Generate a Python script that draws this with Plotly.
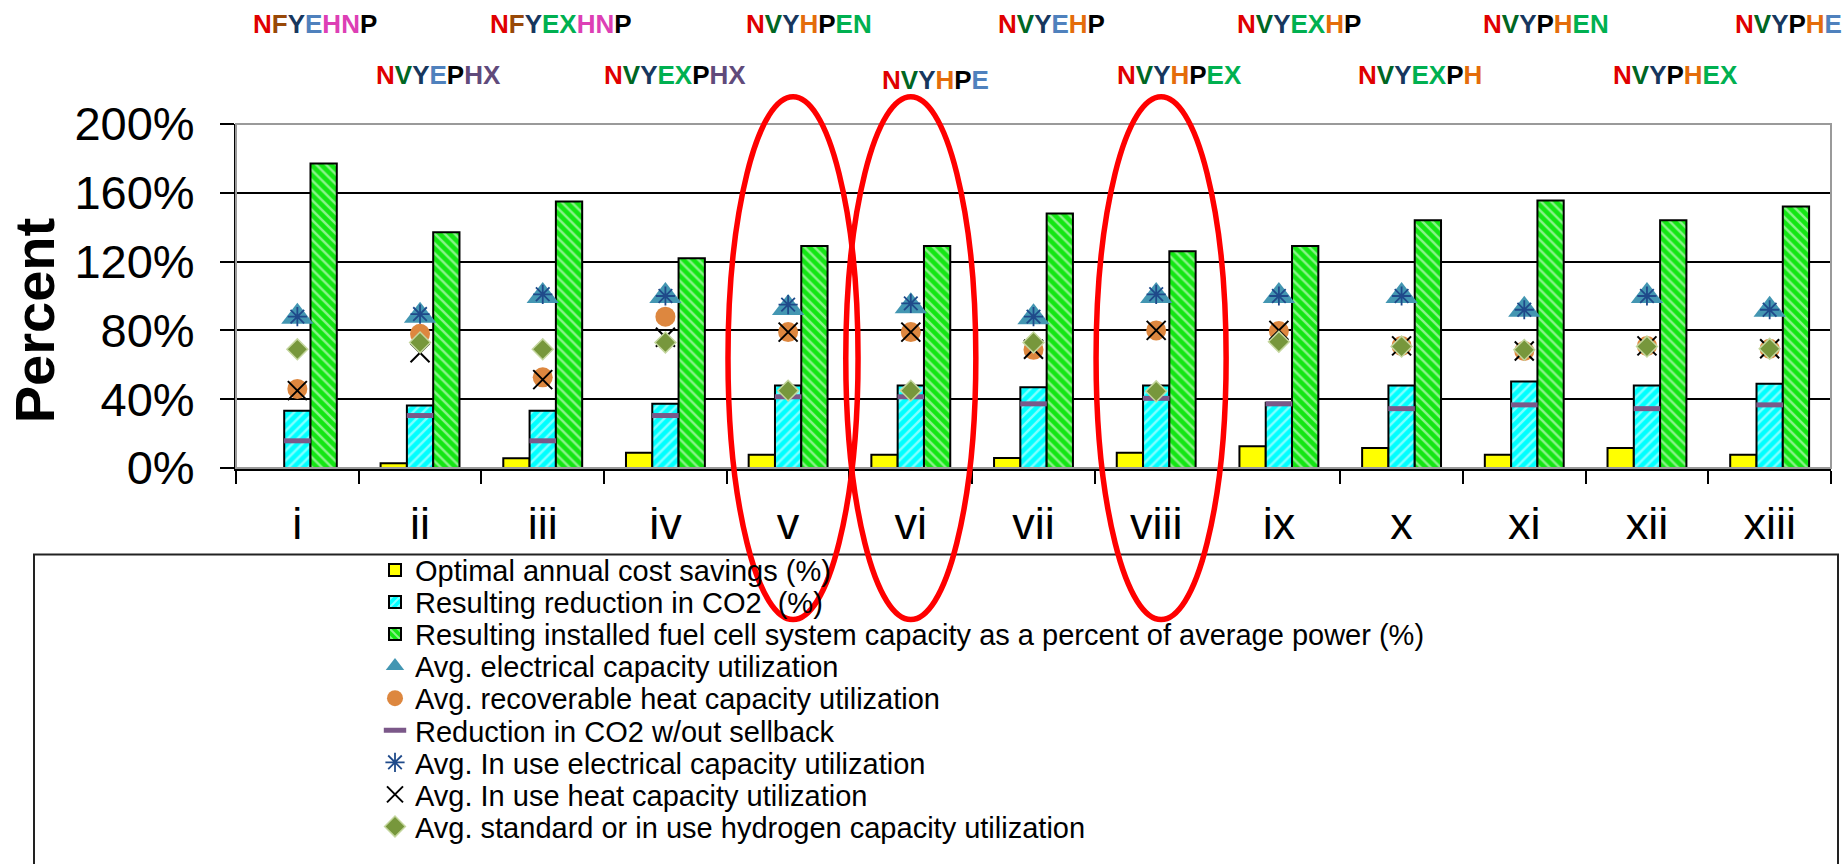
import plotly.graph_objects as go

# ---- data -------------------------------------------------------------
categories = ['i', 'ii', 'iii', 'iv', 'v', 'vi', 'vii', 'viii', 'ix', 'x', 'xi', 'xii', 'xiii']

cost_savings = [0.0, 2.8, 5.6, 8.9, 7.7, 7.7, 5.8, 8.9, 12.6, 11.7, 7.7, 11.7, 7.7]
co2_reduction = [33.3, 36.3, 33.3, 37.3, 48.0, 48.0, 47.0, 48.0, 38.0, 48.0, 50.3, 48.0, 49.0]
fc_capacity = [177, 137, 155, 122, 129, 129, 148, 126, 129, 144, 155.5, 144, 152]
elec_util = [88, 88.5, 100, 100, 93, 94, 87.6, 100, 100, 100, 92, 100, 92]
heat_util = [46, 78, 52.7, 88, 79, 79, 68.7, 80, 79.6, 71, 68, 71, 69.3]
co2_no_sellback = [15.8, 30.5, 15.8, 30.5, 41.4, 41.4, 37.3, 40.5, 37.3, 34.5, 36.7, 34.5, 36.7]
inuse_elec_util = [88, 89.5, 101, 100, 95, 95.7, 88, 101, 100, 100, 92, 100, 92]
inuse_heat_util = [45, 67, 51.4, 76, 79, 79, 69, 80, 80, 71, 68, 71, 69.3]
h2_util = [69, 73, 69, 73, 45, 45, 73, 44.6, 73.4, 70.6, 68.7, 70.6, 69.3]

y_ticks = [0, 40, 80, 120, 160, 200]
y_tick_text = ['0%', '40%', '80%', '120%', '160%', '200%']

# configuration codes shown above each case, one colour key per letter
config_codes = ['NFYEHNP', 'NVYEPHX', 'NFYEXHNP', 'NVYEXPHX', 'NVYHPEN', 'NVYHPE', 'NVYEHP',
                'NVYHPEX', 'NVYEXHP', 'NVYEXPH', 'NVYPHEN', 'NVYPHEX', 'NVYPHE']
config_colors = ['RBNSPPK', 'RDNSKUU', 'RBNGGPPK', 'RDNGGKUU', 'RDNOKGG', 'RDNOKS', 'RDNSOK',
                 'RDNOKGG', 'RDNGGOK', 'RDNGGKO', 'RDNKOGG', 'RDNKOGG', 'RDNKOS']
config_shift = [0.14, 0.15, 0.15, 0.08, 0.17, 0.20, 0.15, 0.19, 0.16, 0.15, 0.18, 0.23, -0.30]

highlighted = ['v', 'vi', 'viii']

letter_palette = {
    'R': '#E00000', 'B': '#984807', 'N': '#17375E', 'D': '#006622', 'S': '#4F81BD',
    'G': '#00B050', 'P': '#DD3FB5', 'K': '#000000', 'O': '#E46C0A', 'U': '#604A7B',
}

FONT = 'Liberation Sans, Arial, sans-serif'

# ---- figure geometry (pixels) ---------------------------------------
W, H = 1843, 864
ML, MR, MT, MB = 236, 12, 124, 386
PW, PH = W - ML - MR, H - MT - MB


def px_x(p):
    return (p - ML) / PW


def px_y(p):
    return (H - MB - p) / PH


def cat_paper(v):
    # paper position of a (fractional) category index on the x axis
    return (v + 0.5) / len(categories)


fig = go.Figure()

bar_line = dict(color='black', width=2)
fig.add_trace(go.Bar(
    x=categories, y=cost_savings, name='Optimal annual cost savings (%)',
    marker=dict(color='#FFFF00', line=bar_line), legend='legend'))
fig.add_trace(go.Bar(
    x=categories, y=co2_reduction, name='Resulting reduction in CO2  (%)',
    marker=dict(color='#00FFFF', line=bar_line,
                pattern=dict(shape='/', fgcolor='white', bgcolor='#00FFFF',
                             size=7, solidity=0.35, fillmode='overlay')),
    legend='legend2'))
fig.add_trace(go.Bar(
    x=categories, y=fc_capacity,
    name='Resulting installed fuel cell system capacity as a percent of average power (%)',
    marker=dict(color='#14E614', line=bar_line,
                pattern=dict(shape='\\', fgcolor='white', bgcolor='#14E614',
                             size=7, solidity=0.35, fillmode='overlay')),
    legend='legend3'))

fig.add_trace(go.Scatter(
    x=categories, y=elec_util, mode='markers', name='Avg. electrical capacity utilization',
    marker=dict(symbol='triangle-up', size=28, color='#4396B2', line=dict(width=0)),
    legend='legend4'))
fig.add_trace(go.Scatter(
    x=categories, y=heat_util, mode='markers', name='Avg. recoverable heat capacity utilization',
    marker=dict(symbol='circle', size=20, color='#DD873F', line=dict(width=0)),
    legend='legend5'))
fig.add_trace(go.Scatter(
    x=categories, y=co2_no_sellback, mode='markers', name='Reduction in CO2 w/out sellback',
    marker=dict(symbol='line-ew', size=19, color='#7B5889',
                line=dict(width=5, color='#7B5889')),
    legend='legend6'))
fig.add_trace(go.Scatter(
    x=categories, y=inuse_elec_util, mode='markers',
    name='Avg. In use electrical capacity utilization',
    marker=dict(symbol='asterisk', size=16, color='#1F4A8A',
                line=dict(width=1.8, color='#1F4A8A')),
    legend='legend7'))
fig.add_trace(go.Scatter(
    x=categories, y=inuse_heat_util, mode='markers', name='Avg. In use heat capacity utilization',
    marker=dict(symbol='x-thin', size=19, color='black', line=dict(width=2, color='black')),
    legend='legend8'))
fig.add_trace(go.Scatter(
    x=categories, y=h2_util, mode='markers',
    name='Avg. standard or in use hydrogen capacity utilization',
    marker=dict(symbol='diamond', size=16, color='#77973C', line=dict(width=1.5, color='#C4D69E')),
    legend='legend9'))

# ---- legend: one row per entry, stacked inside a framed box -----------
row_top, row_step = 583, 33
legend_left = 375
legend_ids = ['legend'] + ['legend%d' % k for k in range(2, 10)]
legend_layout = {}
for k, lid in enumerate(legend_ids):
    legend_layout[lid] = dict(
        x=px_x(legend_left), y=px_y(row_top + k * row_step),
        xanchor='left', yanchor='middle', bgcolor='rgba(0,0,0,0)', borderwidth=0,
        font=dict(family=FONT, size=29, color='black'), itemclick=False)

shapes = [
    # legend frame
    dict(type='rect', xref='paper', yref='paper',
         x0=px_x(34), x1=px_x(1838), y0=px_y(567), y1=px_y(890),
         line=dict(color='#222222', width=2), fillcolor='rgba(0,0,0,0)', layer='below'),
    # plot area frame (top / right)
    dict(type='rect', xref='paper', yref='paper', x0=0, x1=1, y0=0, y1=1,
         line=dict(color='#9A9A9A', width=2), fillcolor='rgba(0,0,0,0)', layer='above'),
]

# red ellipses around the highlighted cases
ellipse_dx = {'v': 0.04, 'vi': 0.0, 'viii': 0.04}
for cat in highlighted:
    v = categories.index(cat) + ellipse_dx[cat]
    shapes.append(dict(type='circle', xref='paper', yref='paper',
                       x0=cat_paper(v - 0.53), x1=cat_paper(v + 0.53),
                       y0=px_y(634), y1=px_y(96),
                       line=dict(color='#FF0000', width=5.5), fillcolor='rgba(0,0,0,0)',
                       layer='above'))

# ---- coloured configuration codes above the plot ---------------------
annotations = []
for idx, (code, cols, shift) in enumerate(zip(config_codes, config_colors, config_shift)):
    txt = ''.join('<span style="color:%s">%s</span>' % (letter_palette[c], ch)
                  for ch, c in zip(code, cols))
    row_y = 21 if idx % 2 == 0 else 74
    if categories[idx] == 'vi':
        row_y = 79
    annotations.append(dict(
        x=idx + shift, xref='x', y=px_y(row_y), yref='paper',
        text='<b>' + txt + '</b>', showarrow=False,
        xanchor='left' if shift < 0 else 'center', yanchor='middle',
        font=dict(family=FONT, size=26)))

annotations.append(dict(
    x=px_x(34), y=px_y(327), xref='paper', yref='paper', text='<b>Percent</b>',
    textangle=-90, showarrow=False, xanchor='center', yanchor='middle',
    font=dict(family=FONT, size=56, color='black')))

fig.update_layout(
    width=W, height=H,
    margin=dict(l=ML, r=MR, t=MT, b=MB, pad=0),
    paper_bgcolor='white', plot_bgcolor='white',
    barmode='group', bargap=0.357, bargroupgap=0,
    showlegend=True,
    font=dict(family=FONT, color='black'),
    shapes=shapes, annotations=annotations,
    xaxis=dict(type='category', categoryorder='array', categoryarray=categories,
               range=[-0.5, len(categories) - 0.5],
               showline=True, linecolor='black', linewidth=3,
               ticks='outside', tickson='boundaries', ticklen=13, tickwidth=2, tickcolor='black',
               showgrid=False, tickfont=dict(family=FONT, size=45, color='black'),
               ticklabelstandoff=14),
    yaxis=dict(range=[0, 200], tickvals=y_ticks, ticktext=y_tick_text,
               showline=True, linecolor='black', linewidth=2,
               ticks='outside', ticklen=14, tickwidth=2, tickcolor='black',
               showgrid=True, gridcolor='black', gridwidth=1.6, zeroline=False,
               tickfont=dict(family=FONT, size=47, color='black'), ticklabelstandoff=16),
    **legend_layout,
)

fig.write_html('out.html')
